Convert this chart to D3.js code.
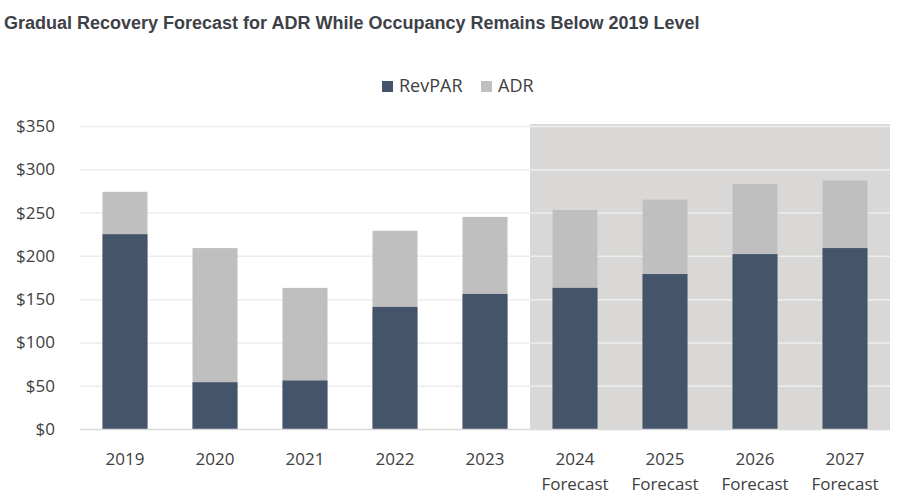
<!DOCTYPE html>
<html><head><meta charset="utf-8">
<script src="https://cdn.jsdelivr.net/npm/d3@7"></script>
<style>
body{margin:0;background:#fff;}
svg{display:block;}
</style></head>
<body>
<svg id="chart" width="910" height="502"></svg>
<script>
const years = ["2019","2020","2021","2022","2023","2024","2025","2026","2027"];
const subLabels = ["","","","","","Forecast","Forecast","Forecast","Forecast"];
const revpar = [225, 54, 56, 141, 156, 163, 179, 202, 209];
const adr = [274, 209, 163, 229, 245, 253, 265, 283, 287];
const yTicks = [0,50,100,150,200,250,300,350];
const forecastStart = "2024";
const seriesNames = ["RevPAR","ADR"];
const colors = {RevPAR:"#44546a", ADR:"#bfbfbf"};

const svg = d3.select("#chart");
const m = {left:80, right:20, top:126, bottom:73};
const W = 910, H = 502;
const x = d3.scaleBand().domain(years).range([m.left, W - m.right]).paddingInner(0.5).paddingOuter(0.25);
const y = d3.scaleLinear().domain([0,350]).range([H - m.bottom, m.top]);

// title
svg.append("text").attr("x",4).attr("y",29)
  .attr("font-family","Liberation Sans, Arial, sans-serif").attr("font-weight","bold")
  .attr("font-size",18).attr("fill","#3d4148")
  .text("Gradual Recovery Forecast for ADR While Occupancy Remains Below 2019 Level");

// forecast shading
const step = x.step();
const fx0 = x(forecastStart) - (step - x.bandwidth())/2;
svg.append("rect").attr("x",fx0).attr("y",y(350)-2)
  .attr("width",(W - m.right) - fx0).attr("height",y(0)-y(350)+2)
  .attr("fill","#d9d8d7");

// gridlines
svg.append("g").selectAll("line").data(yTicks.filter(d=>d>0)).join("line")
  .attr("x1",m.left).attr("x2",W-m.right)
  .attr("y1",d=>y(d)+0.5).attr("y2",d=>y(d)+0.5)
  .attr("stroke","#ededed").attr("stroke-width",1.5);

// bars ADR (behind) then RevPAR
svg.append("g").selectAll("rect").data(years).join("rect")
  .attr("x",d=>x(d)).attr("width",x.bandwidth())
  .attr("y",(d,i)=>y(adr[i])).attr("height",(d,i)=>y(0)-y(adr[i]))
  .attr("fill",colors.ADR);
svg.append("g").selectAll("rect").data(years).join("rect")
  .attr("x",d=>x(d)).attr("width",x.bandwidth())
  .attr("y",(d,i)=>y(revpar[i])).attr("height",(d,i)=>y(0)-y(revpar[i]))
  .attr("fill",colors.RevPAR);

// baseline
svg.append("line").attr("x1",m.left).attr("x2",W-m.right)
  .attr("y1",y(0)+0.5).attr("y2",y(0)+0.5).attr("stroke","#d9d9d9").attr("stroke-width",1.5);

// y axis labels
const font = "Open Sans, Noto Sans, sans-serif";
svg.append("g").selectAll("text").data(yTicks).join("text")
  .attr("x",55).attr("y",d=>y(d)+6).attr("text-anchor","end")
  .attr("font-family",font).attr("font-size",17).attr("fill","#404040")
  .text(d=>"$"+d);

// x labels
const xl = svg.append("g").selectAll("g").data(years).join("g");
xl.append("text").attr("x",d=>x(d)+x.bandwidth()/2).attr("y",465)
  .attr("text-anchor","middle").attr("font-family",font).attr("font-size",17).attr("fill","#404040")
  .text(d=>d);
xl.append("text").attr("x",d=>x(d)+x.bandwidth()/2).attr("y",490)
  .attr("text-anchor","middle").attr("font-family",font).attr("font-size",17).attr("fill","#404040")
  .text((d,i)=>subLabels[i]);

// legend
const leg = svg.append("g");
const legItems = [{n:"RevPAR",x:382},{n:"ADR",x:481}];
legItems.forEach(it=>{
  leg.append("rect").attr("x",it.x).attr("y",81).attr("width",11).attr("height",11).attr("fill",colors[it.n]);
  leg.append("text").attr("x",it.x+17).attr("y",92).attr("font-family",font).attr("font-size",18)
    .attr("fill","#404040").text(it.n);
});
</script>
</body></html>
